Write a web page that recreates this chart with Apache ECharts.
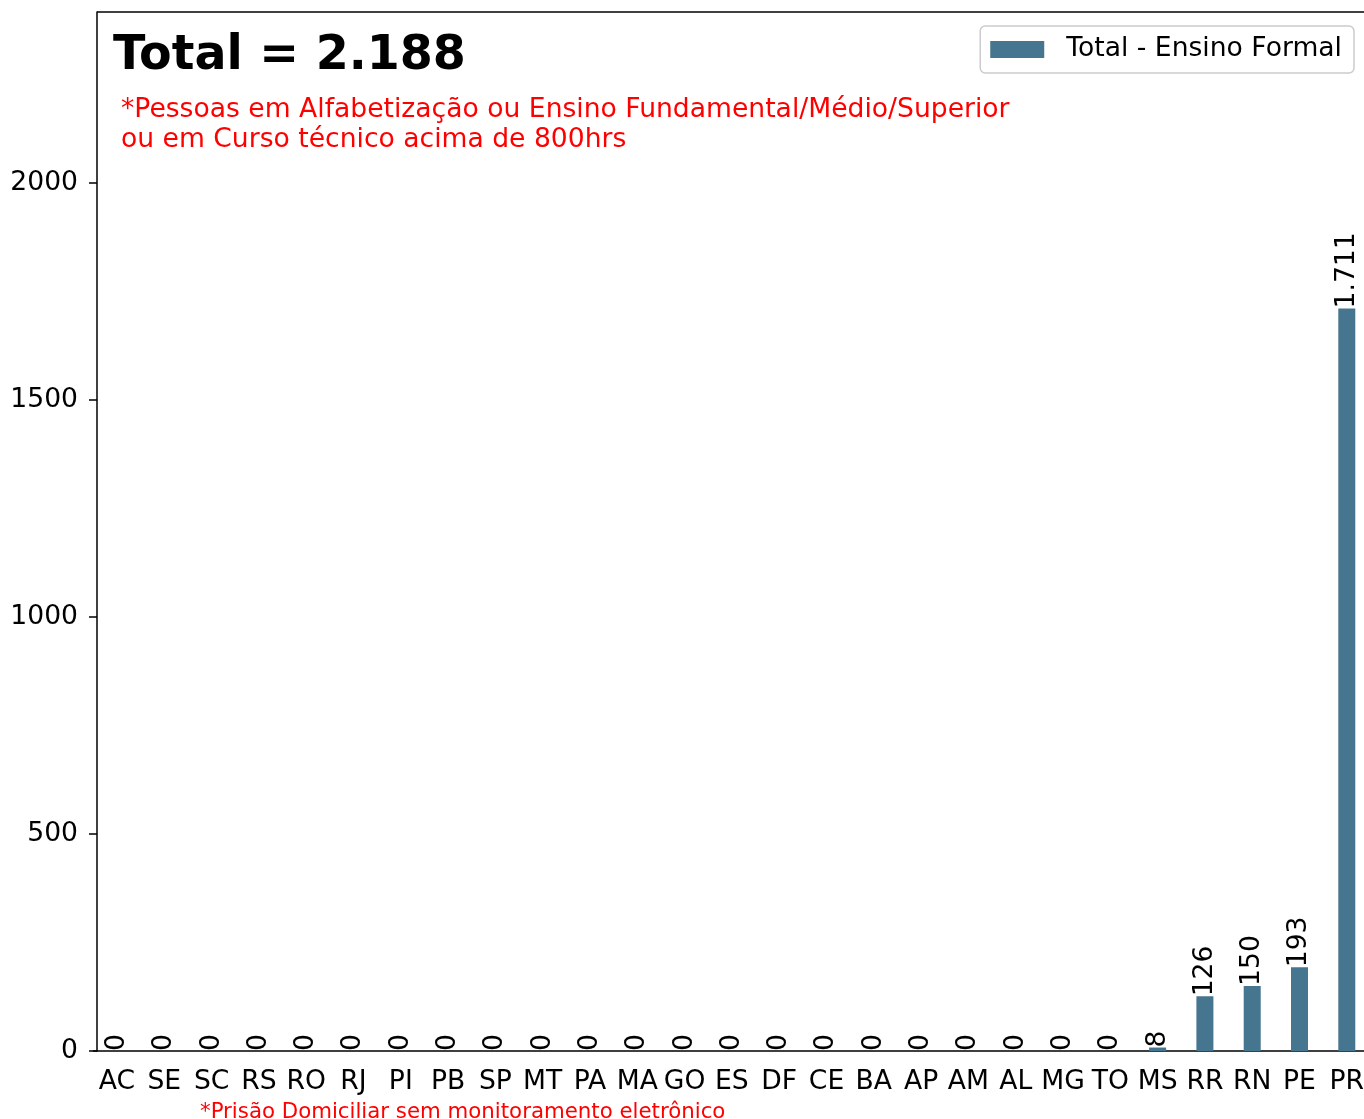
<!DOCTYPE html>
<html>
<head>
<meta charset="utf-8">
<script src="https://cdn.jsdelivr.net/npm/echarts@6/dist/echarts.min.js"></script>
<style>
html,body{margin:0;padding:0;background:#fff;}
#chart{width:1364px;height:1119px;}
</style>
</head>
<body>
<div id="chart"></div>
<script>
const categories = ['AC','SE','SC','RS','RO','RJ','PI','PB','SP','MT','PA','MA','GO','ES','DF','CE','BA','AP','AM','AL','MG','TO','MS','RR','RN','PE','PR'];
const values = [0,0,0,0,0,0,0,0,0,0,0,0,0,0,0,0,0,0,0,0,0,0,8,126,150,193,1711];
const yTicks = [0,500,1000,1500,2000];
const seriesName = 'Total - Ensino Formal';
const subtitleText = '*Pessoas em Alfabetização ou Ensino Fundamental/Médio/Superior\nou em Curso técnico acima de 800hrs';
const footnoteText = '*Prisão Domiciliar sem monitoramento eletrônico';

const fmt = v => String(v).replace(/\B(?=(\d{3})+(?!\d))/g, '.');
const total = values.reduce((a,b)=>a+b,0);
const FONT = 'DejaVu Sans';
const FS = 26.6;

const chart = echarts.init(document.getElementById('chart'), null, {renderer:'canvas'});
chart.setOption({
  animation:false,
  backgroundColor:'#fff',
  textStyle:{fontFamily:FONT},
  title:[
    {text:'Total = ' + fmt(total), left:108, top:28,
     textStyle:{fontFamily:FONT, fontSize:47.5, fontWeight:'bold', color:'#000'}},
    {text:subtitleText, left:116, top:90,
     textStyle:{fontFamily:FONT, fontSize:FS, fontWeight:'normal', color:'#ff0000', lineHeight:30}},
    {text:footnoteText, left:195, top:1097,
     textStyle:{fontFamily:FONT, fontSize:21.3, fontWeight:'normal', color:'#ff0000'}}
  ],
  legend:{
    right:10, top:26,
    data:[{name:seriesName, icon:'rect'}],
    itemWidth:54, itemHeight:17,
    padding:[10,12,10,10],
    borderColor:'#cccccc', borderWidth:1.5, borderRadius:5,
    backgroundColor:'#fff',
    textStyle:{fontFamily:FONT, fontSize:FS, color:'#000', padding:[0,0,0,17], lineHeight:26}
  },
  grid:{left:93.35, width:1277.1, top:12, bottom:68, containLabel:false, outerBoundsMode:'none'},
  xAxis:{
    type:'category', data:categories,
    axisLine:{lineStyle:{color:'#000', width:1.5}},
    axisTick:{alignWithLabel:true, length:8, lineStyle:{color:'#000', width:1.5}},
    axisLabel:{fontFamily:FONT, fontSize:FS, color:'#000', margin:18, interval:0}
  },
  yAxis:{
    type:'value', min:0, max:2394, interval:500, offset:-3.65,
    splitLine:{show:false},
    axisLine:{show:true, lineStyle:{color:'#000', width:1.5}},
    axisTick:{show:true, length:8, lineStyle:{color:'#000', width:1.5}, customValues:yTicks},
    axisLabel:{fontFamily:FONT, fontSize:FS, color:'#000', margin:19, customValues:yTicks,
      padding:[4,0,0,0], formatter:v=>String(v)}
  },
  graphic:[
    {type:'line', shape:{x1:97, y1:12, x2:1364, y2:12}, style:{stroke:'#000', lineWidth:1.5}, z:100}
  ],
  series:[{
    name:seriesName, type:'bar', data:values, barWidth:17,
    itemStyle:{color:'#467590'},
    label:{show:true, position:'top', rotate:90, align:'left', verticalAlign:'middle', distance:0,
      fontFamily:FONT, fontSize:FS, color:'#000', formatter:p=>fmt(p.value)}
  }]
});
</script>
</body>
</html>
